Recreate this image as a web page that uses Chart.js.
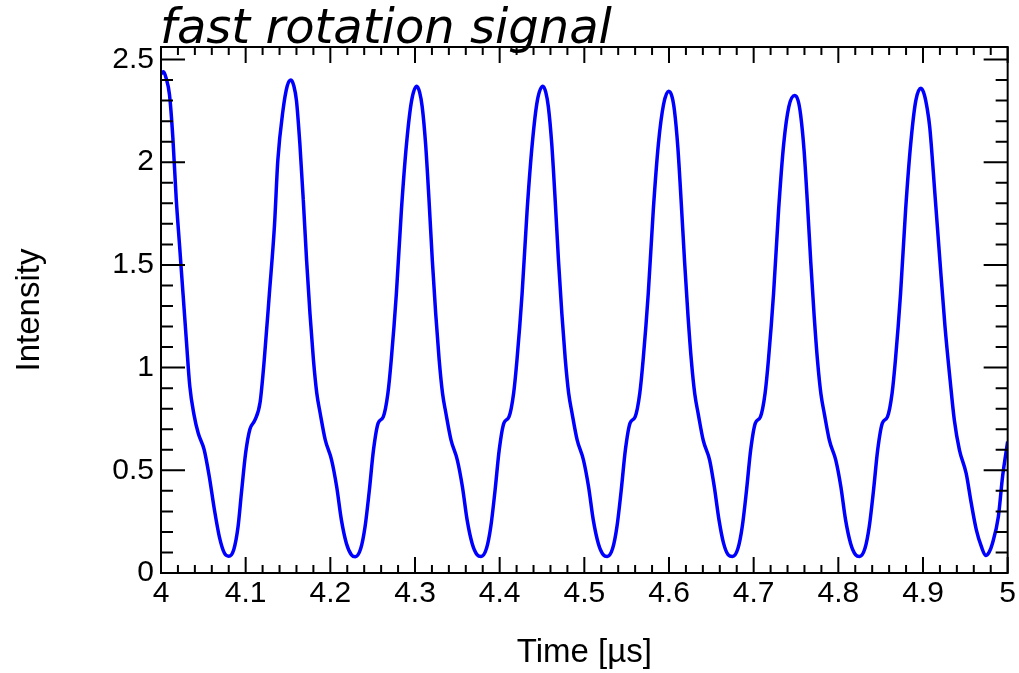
<!DOCTYPE html>
<html>
<head>
<meta charset="utf-8">
<title>fast rotation signal</title>
<script src="https://cdn.jsdelivr.net/npm/chart.js@4/dist/chart.umd.min.js"></script>
<style>
  html, body { margin: 0; padding: 0; background: #fff; }
  #wrap { width: 1019px; height: 673px; position: relative; }
</style>
</head>
<body>
<div id="wrap"><canvas id="signalChart"></canvas></div>
<script>
// sampled signal, time in microseconds
const timeUs = [
  4.000, 4.003, 4.006, 4.010, 4.014, 4.018, 4.022, 4.026, 4.030, 4.034, 4.039, 4.044, 4.051, 4.057, 4.063, 4.069, 4.075, 4.080,
  4.086, 4.091, 4.095, 4.100, 4.105, 4.111, 4.117, 4.122, 4.128, 4.134, 4.138, 4.144, 4.149, 4.1535,
  4.157, 4.160, 4.164, 4.168, 4.172, 4.176, 4.180, 4.184, 4.188, 4.194, 4.2015, 4.2075, 4.213, 4.219, 4.225, 4.2295,
  4.236, 4.241, 4.246, 4.251, 4.2565, 4.2625, 4.268, 4.272, 4.278, 4.284, 4.290, 4.296, 4.302,
  4.3055, 4.3085, 4.3125, 4.3165, 4.3205, 4.3245, 4.3285, 4.3325, 4.3365, 4.3425, 4.350, 4.356, 4.3615, 4.3675, 4.3735, 4.378,
  4.3845, 4.3895, 4.3945, 4.3995, 4.405, 4.411, 4.4165, 4.4205, 4.4265, 4.4325, 4.4385, 4.4445, 4.451,
  4.4545, 4.4575, 4.4615, 4.4655, 4.4695, 4.4735, 4.4775, 4.4815, 4.4855, 4.4915, 4.499, 4.505, 4.5105, 4.5165, 4.5225, 4.527,
  4.5335, 4.5385, 4.5435, 4.5485, 4.554, 4.560, 4.5655, 4.5695, 4.5755, 4.5815, 4.5875, 4.5935, 4.5995,
  4.6035, 4.6065, 4.6105, 4.6145, 4.6185, 4.6225, 4.6265, 4.6305, 4.6345, 4.6405, 4.648, 4.6535, 4.659, 4.6645, 4.670, 4.675,
  4.6815, 4.6865, 4.6915, 4.6965, 4.702, 4.708, 4.7135, 4.7175, 4.7235, 4.7295, 4.7355, 4.7415, 4.7485,
  4.7525, 4.7555, 4.7595, 4.7635, 4.7675, 4.7715, 4.7755, 4.7795, 4.7835, 4.7895, 4.797, 4.803, 4.8085, 4.8145, 4.8205, 4.825,
  4.8315, 4.8365, 4.8415, 4.8465, 4.852, 4.858, 4.8635, 4.8675, 4.8735, 4.8795, 4.8855, 4.8915, 4.8975,
  4.9015, 4.905, 4.908, 4.914, 4.920, 4.926, 4.932, 4.937, 4.943, 4.951, 4.957, 4.963, 4.969, 4.974,
  4.978, 4.982, 4.989, 4.994, 5.000
];

const intensity = [
  2.43, 2.44, 2.41, 2.33, 2.12, 1.82, 1.59, 1.36, 1.13, 0.91, 0.77, 0.68, 0.60, 0.47, 0.31, 0.175, 0.096, 0.082,
  0.115, 0.225, 0.39, 0.585, 0.70, 0.745, 0.83, 1.04, 1.36, 1.69, 2.01, 2.25, 2.37, 2.40,
  2.37, 2.30, 2.09, 1.82, 1.52, 1.26, 1.04, 0.875, 0.778, 0.648, 0.55, 0.42, 0.26, 0.144, 0.088, 0.079,
  0.12, 0.225, 0.40, 0.60, 0.73, 0.76, 0.875, 1.04, 1.36, 1.77, 2.09, 2.30, 2.37,
  2.34, 2.27, 2.09, 1.82, 1.52, 1.26, 1.04, 0.875, 0.778, 0.648, 0.55, 0.42, 0.26, 0.144, 0.088, 0.08,
  0.12, 0.225, 0.40, 0.60, 0.73, 0.76, 0.875, 1.04, 1.36, 1.77, 2.09, 2.30, 2.37,
  2.34, 2.27, 2.09, 1.82, 1.52, 1.26, 1.04, 0.875, 0.778, 0.648, 0.55, 0.42, 0.26, 0.144, 0.088, 0.08,
  0.12, 0.225, 0.40, 0.60, 0.73, 0.76, 0.875, 1.04, 1.36, 1.77, 2.09, 2.28, 2.345,
  2.32, 2.25, 2.07, 1.80, 1.51, 1.25, 1.03, 0.87, 0.775, 0.645, 0.55, 0.42, 0.26, 0.144, 0.088, 0.08,
  0.12, 0.225, 0.40, 0.60, 0.73, 0.76, 0.875, 1.04, 1.36, 1.77, 2.09, 2.27, 2.325,
  2.30, 2.23, 2.06, 1.80, 1.51, 1.25, 1.03, 0.87, 0.775, 0.645, 0.55, 0.42, 0.26, 0.144, 0.088, 0.08,
  0.12, 0.225, 0.40, 0.60, 0.73, 0.76, 0.875, 1.04, 1.36, 1.77, 2.09, 2.30, 2.36,
  2.33, 2.26, 2.17, 1.85, 1.52, 1.20, 0.94, 0.745, 0.60, 0.485, 0.34, 0.21, 0.128, 0.085,
  0.10, 0.144, 0.274, 0.47, 0.64
];

const xRange = [4, 5];
const yRange = [0, 2.561];

const labelFont = { family: '"Liberation Sans", Arial, sans-serif', size: 30 };
const titleFont = { family: '"Liberation Sans", Arial, sans-serif', size: 33 };

function fmtTick(v) {
  return String(Math.round(v * 10) / 10);
}

// ROOT style frame: box plus inward ticks on all four sides
const frameTicks = {
  id: 'frameTicks',
  afterDatasetsDraw(chart) {
    const { ctx, chartArea: a, scales } = chart;
    const xs = scales.x, ys = scales.y;
    ctx.save();
    ctx.strokeStyle = '#000';
    ctx.lineWidth = 2;
    ctx.strokeRect(a.left, a.top, a.right - a.left, a.bottom - a.top);

    ctx.beginPath();
    for (let i = 0; i <= 50; i++) {
      const v = xRange[0] + i * 0.02;
      const px = xs.getPixelForValue(v);
      const len = i % 5 === 0 ? 16 : 8;
      ctx.moveTo(px, a.bottom); ctx.lineTo(px, a.bottom - len);
      ctx.moveTo(px, a.top); ctx.lineTo(px, a.top + len);
    }
    for (let i = 0; i * 0.1 <= yRange[1]; i++) {
      const py = ys.getPixelForValue(i * 0.1);
      const len = i % 5 === 0 ? 24 : 12;
      ctx.moveTo(a.left, py); ctx.lineTo(a.left + len, py);
      ctx.moveTo(a.right, py); ctx.lineTo(a.right - len, py);
    }
    ctx.stroke();
    ctx.restore();
  },
  afterDraw(chart) {
    const ctx = chart.ctx;
    ctx.save();
    ctx.fillStyle = '#000';
    ctx.font = 'italic 48px "DejaVu Sans"';
    ctx.textBaseline = 'alphabetic';
    ctx.textAlign = 'left';
    ctx.fillText('fast rotation signal', 160, 43);
    ctx.restore();
  }
};

const ctx = document.getElementById('signalChart').getContext('2d');
const chart = new Chart(ctx, {
  type: 'line',
  data: {
    datasets: [{
      label: 'Intensity',
      data: timeUs.map((t, i) => ({ x: t, y: intensity[i] })),
      borderColor: '#0000ff',
      borderWidth: 3.5,
      pointRadius: 0,
      fill: false,
      cubicInterpolationMode: 'monotone'
    }]
  },
  options: {
    responsive: true,
    maintainAspectRatio: false,
    animation: false,
    layout: { padding: { left: 0, top: 47, right: 11, bottom: 0 } },
    plugins: {
      legend: { display: false },
      tooltip: { enabled: false },
      title: { display: false }
    },
    scales: {
      x: {
        type: 'linear',
        min: xRange[0],
        max: xRange[1],
        afterFit(scale) { scale.height = 100; },
        grid: { display: false, drawTicks: false },
        border: { display: false },
        ticks: {
          stepSize: 0.1,
          includeBounds: false,
          autoSkip: false,
          maxRotation: 0,
          padding: 3,
          color: '#000',
          font: labelFont,
          callback: fmtTick
        },
        title: {
          display: true,
          text: 'Time [µs]',
          color: '#000',
          font: titleFont,
          padding: { top: 0, bottom: 0 }
        }
      },
      y: {
        type: 'linear',
        min: yRange[0],
        max: yRange[1],
        afterFit(scale) { scale.width = 161; },
        grid: { display: false, drawTicks: false },
        border: { display: false },
        ticks: {
          stepSize: 0.5,
          includeBounds: false,
          padding: 7,
          color: '#000',
          font: labelFont,
          callback: fmtTick
        },
        title: {
          display: true,
          text: 'Intensity',
          color: '#000',
          font: titleFont,
          padding: { top: 10, bottom: 0 }
        }
      }
    }
  },
  plugins: [frameTicks]
});
</script>
</body>
</html>
